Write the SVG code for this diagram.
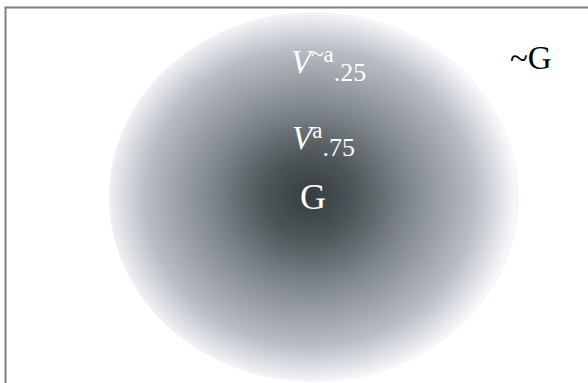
<svg xmlns="http://www.w3.org/2000/svg" width="588" height="383" viewBox="0 0 588 383">
<defs>
<radialGradient id="g" cx="0.49" cy="0.5" r="0.5">
<stop offset="0" stop-color="#343c3f"/>
<stop offset="0.22" stop-color="#4d5558"/>
<stop offset="0.5" stop-color="#838990"/>
<stop offset="0.8" stop-color="#b8bcc4"/>
<stop offset="1" stop-color="#f5f6f8"/>
</radialGradient>
<style>
.t{font-family:"Liberation Serif","Times New Roman",serif;}
</style>
</defs>
<rect x="0" y="0" width="588" height="383" fill="#fff"/>
<rect x="5.5" y="7.5" width="600" height="400" fill="none" stroke="#808080" stroke-width="2"/>
<g id="region-G">
<ellipse cx="314" cy="197" rx="205" ry="185" fill="url(#g)"/>
</g>
<g id="labels" class="t" fill="#fff">
<text x="291" y="73" font-size="33"><tspan font-style="italic">V</tspan><tspan font-size="23" dy="-11">~a</tspan><tspan font-size="26" dy="19">.25</tspan></text>
<text x="292" y="149" font-size="33"><tspan font-style="italic">V</tspan><tspan font-size="23" dy="-11">a</tspan><tspan font-size="26" dy="18">.75</tspan></text>
<text x="300" y="209" font-size="36">G</text>
</g>
<text class="t" x="510" y="69" font-size="33" fill="#000">~G</text>
</svg>
